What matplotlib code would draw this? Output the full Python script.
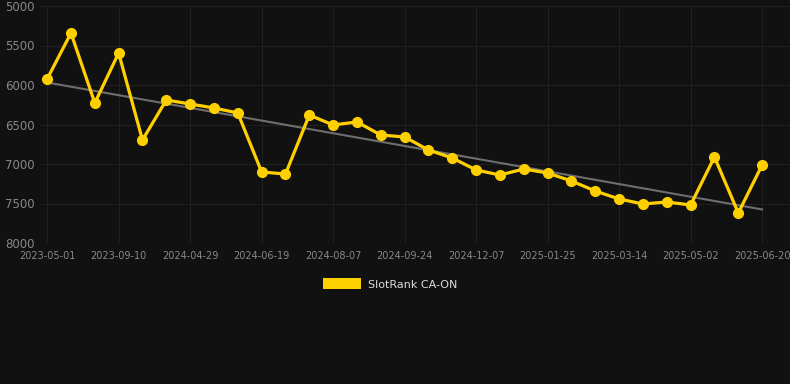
import numpy as np
import matplotlib
matplotlib.use('Agg')
import matplotlib.pyplot as plt
from matplotlib.patches import Patch

dates = ['2023-05-01', '', '', '2023-09-10', '', '', '2024-04-29', '', '', '2024-06-19', '', '',
         '2024-08-07', '', '', '2024-09-24', '', '', '2024-12-07', '', '', '2025-01-25', '', '',
         '2025-03-14', '', '', '2025-05-02', '', '', '2025-06-20']
rank = [5924, 5342, 6228, 5595, 6696, 6190, 6240, 6291, 6354, 7101, 7127, 6380, 6506, 6468, 6633,
        6658, 6823, 6924, 7076, 7139, 7063, 7114, 7215, 7342, 7443, 7506, 7481, 7519, 6911, 7620, 7013]
label = 'SlotRank CA-ON'

bg = '#111111'
fig = plt.figure(figsize=(7.9, 3.84), dpi=100, facecolor=bg)
ax = fig.add_axes([40 / 790, 1 - 243 / 384, 750 / 790, 237 / 384])
ax.set_facecolor(bg)

x = np.arange(len(rank))
# trend line
k, b = np.polyfit(x, rank, 1)
ax.plot(x, k * x + b, color='#6e6e6e', linewidth=1.5, zorder=2)
ax.plot(x, rank, color='#FFD000', linewidth=2.3, marker='o', markersize=7, zorder=3)

ax.set_ylim(8000, 5000)
ax.set_xlim(-0.3, 31.17)
ax.set_yticks([5000, 5500, 6000, 6500, 7000, 7500, 8000])
ticks = [i for i, d in enumerate(dates) if d]
ax.set_xticks(ticks)
ax.set_xticklabels([dates[i] for i in ticks])
ax.grid(True, color='#202020', linewidth=0.8)
ax.set_axisbelow(True)
for s in ax.spines.values():
    s.set_visible(False)
ax.tick_params(axis='y', colors='#888888', labelsize=8.5, length=0, pad=4)
ax.tick_params(axis='x', colors='#888888', labelsize=7, length=0, pad=6)

fig.legend(handles=[Patch(facecolor='#FFD000', edgecolor='none', label=label)],
           loc='center', bbox_to_anchor=(390 / 790, 1 - 284 / 384), frameon=False,
           fontsize=8, labelcolor='#dddddd', handlelength=3.5, handleheight=1.1,
           handletextpad=0.6)

fig.savefig('out.png', dpi=100, facecolor=bg)
